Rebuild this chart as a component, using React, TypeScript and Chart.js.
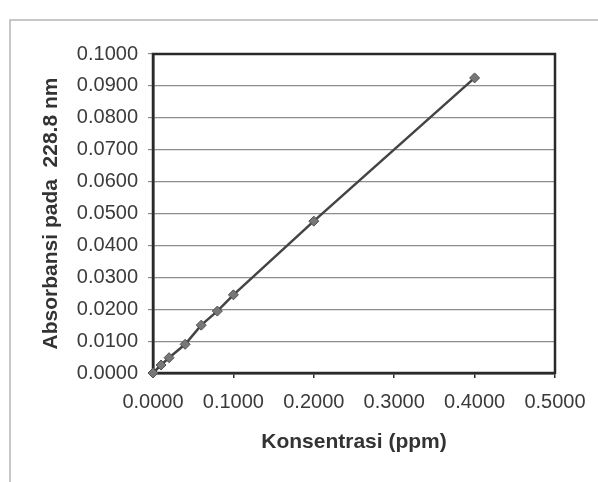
import { useEffect, useRef } from "react";
import { Chart, registerables } from "chart.js";

Chart.register(...registerables);

const konsentrasi = [0, 0.01, 0.02, 0.04, 0.06, 0.08, 0.1, 0.2, 0.4];
const absorbansi = [0, 0.0025, 0.0048, 0.009, 0.015, 0.0194, 0.0245, 0.0476, 0.0925];
const xTitle = "Konsentrasi (ppm)";
const yTitle = "Absorbansi pada  228.8 nm";

const FONT = "'Liberation Sans', Arial, sans-serif";

const framePlugin = {
  id: "frame",
  beforeDraw(chart: any) {
    const { ctx, width, height } = chart;
    ctx.save();
    ctx.fillStyle = "#ffffff";
    ctx.fillRect(0, 0, width, height);
    ctx.strokeStyle = "#b5b5b5";
    ctx.lineWidth = 1.5;
    ctx.beginPath();
    ctx.moveTo(10, height);
    ctx.lineTo(10, 20);
    ctx.lineTo(width, 20);
    ctx.stroke();
    ctx.restore();
  },
  beforeDatasetsDraw(chart: any) {
    const { ctx, chartArea } = chart;
    ctx.save();
    ctx.strokeStyle = "#2a2a2a";
    ctx.lineWidth = 2.5;
    ctx.strokeRect(chartArea.left, chartArea.top, chartArea.right - chartArea.left, chartArea.bottom - chartArea.top);
    ctx.restore();
  },
};

export default function App() {
  const ref = useRef<HTMLCanvasElement | null>(null);
  useEffect(() => {
    document.body.style.margin = "0";
    const canvas = ref.current!;
    const chart = new Chart(canvas, {
      type: "scatter",
      data: {
        datasets: [
          {
            data: konsentrasi.map((x, i) => ({ x, y: absorbansi[i] })),
            showLine: true,
            borderColor: "#444444",
            borderWidth: 2.5,
            pointStyle: "rectRot",
            pointRadius: 5,
            pointBackgroundColor: "#777777",
            pointBorderColor: "#505050",
            pointBorderWidth: 1,
            tension: 0,
            clip: false,
          },
        ],
      },
      plugins: [framePlugin],
      options: {
        animation: false,
        responsive: false,
        maintainAspectRatio: false,
        layout: { padding: { left: 39, right: 43, top: 54, bottom: 27 } },
        plugins: { legend: { display: false }, tooltip: { enabled: false }, title: { display: false } },
        scales: {
          x: {
            type: "linear",
            min: 0,
            max: 0.5,
            ticks: {
              stepSize: 0.1,
              padding: 12,
              color: "#3a3a3a",
              font: { family: FONT, size: 20 },
              callback: (v: any) => Number(v).toFixed(4),
              maxRotation: 0,
            },
            grid: { drawOnChartArea: false, drawTicks: true, tickLength: 5, color: "#2a2a2a", lineWidth: 1.5 },
            border: { display: true, color: "#2a2a2a", width: 2.5 },
            title: {
              display: true,
              text: xTitle,
              color: "#333333",
              padding: 0,
              font: { family: FONT, size: 21, weight: "bold" },
            },
            afterFit: (s: any) => {
              s.height = 82;
            },
          },
          y: {
            type: "linear",
            min: 0,
            max: 0.1,
            ticks: {
              stepSize: 0.01,
              padding: 10,
              color: "#3a3a3a",
              font: { family: FONT, size: 20 },
              callback: (v: any) => Number(v).toFixed(4),
            },
            grid: { drawTicks: true, tickLength: 5, color: "#8c8c8c", lineWidth: 1.2 },
            border: { display: true, color: "#2a2a2a", width: 2.5 },
            title: {
              display: true,
              text: yTitle,
              color: "#333333",
              padding: 0,
              font: { family: FONT, size: 21, weight: "bold" },
            },
            afterFit: (s: any) => {
              s.width = 114;
            },
          },
        },
      },
    });
    return () => chart.destroy();
  }, []);
  return <canvas ref={ref} width={598} height={482} style={{ display: "block" }} />;
}
